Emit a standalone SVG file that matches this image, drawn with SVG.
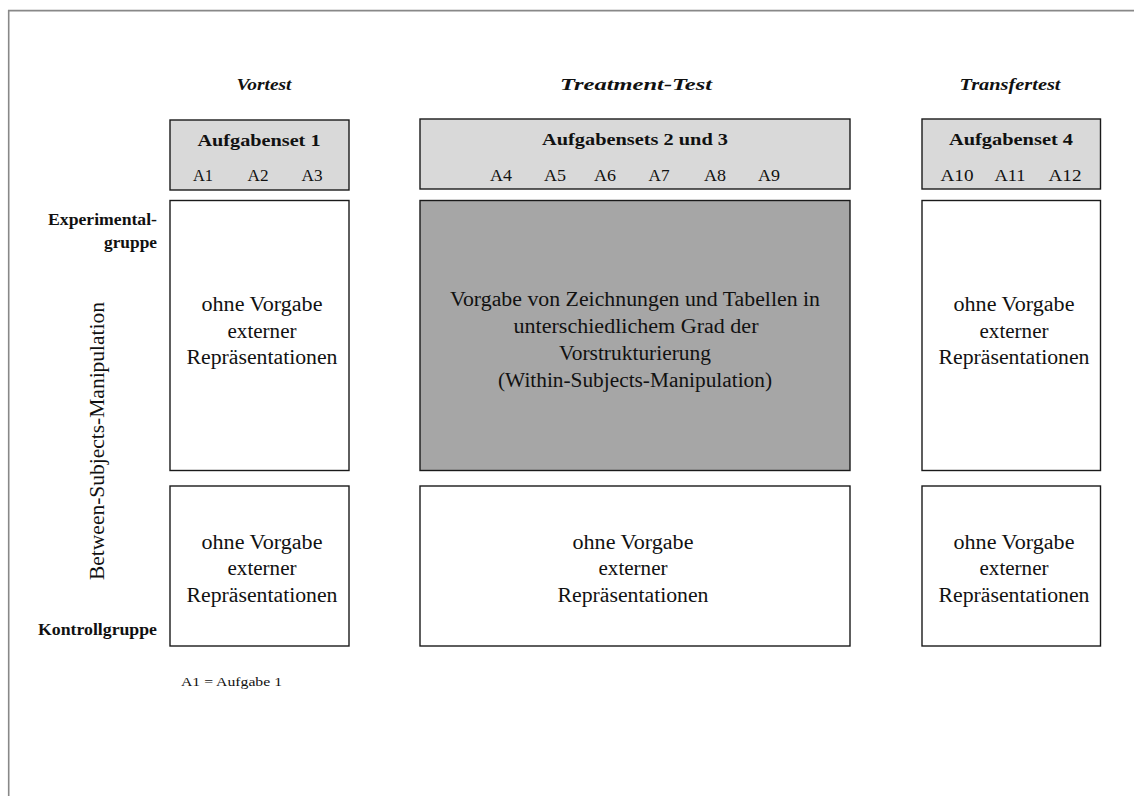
<svg xmlns="http://www.w3.org/2000/svg" width="1134" height="796" viewBox="0 0 1134 796">
  <style>
    text { font-family: "Liberation Serif", "Times New Roman", serif; fill: #111; text-anchor: middle; }
    .phase { font-size: 17px; font-weight: bold; font-style: italic; }
    .set { font-size: 17px; font-weight: bold; }
    .task { font-size: 17px; }
    .body { font-size: 20px; }
    .grp { font-size: 16px; font-weight: bold; text-anchor: end; }
    .axis { font-size: 20px; }
    .note { font-size: 12px; text-anchor: start; }
    .hdr { fill: #d9d9d9; stroke: #1a1a1a; stroke-width: 1.4; }
    .cell { fill: #ffffff; stroke: #1a1a1a; stroke-width: 1.4; }
    .cell-dark { fill: #a6a6a6; stroke: #1a1a1a; stroke-width: 1.4; }
  </style>

  <rect width="1134" height="796" fill="#ffffff"/>
  <!-- frame (top and left edges) -->
  <path d="M8.7 796 V10.6 H1134" fill="none" stroke="#888888" stroke-width="1.6"/>

  <g id="connectors"/>

  <!-- phase titles -->
  <g id="phase-titles">
    <text class="phase" x="264" y="90" textLength="55" lengthAdjust="spacingAndGlyphs">Vortest</text>
    <text class="phase" x="636" y="90" textLength="152" lengthAdjust="spacingAndGlyphs">Treatment-Test</text>
    <text class="phase" x="1010" y="90" textLength="101" lengthAdjust="spacingAndGlyphs">Transfertest</text>
  </g>

  <!-- task-set headers -->
  <g id="header-set1">
    <rect class="hdr" x="170" y="120" width="179" height="70"/>
    <text class="set" x="259" y="146" textLength="123" lengthAdjust="spacingAndGlyphs">Aufgabenset  1</text>
    <text class="task" x="203" y="181" textLength="20" lengthAdjust="spacingAndGlyphs">A1</text>
    <text class="task" x="258" y="181" textLength="21" lengthAdjust="spacingAndGlyphs">A2</text>
    <text class="task" x="312" y="181" textLength="21" lengthAdjust="spacingAndGlyphs">A3</text>
  </g>
  <g id="header-set23">
    <rect class="hdr" x="420" y="119" width="430" height="70"/>
    <text class="set" x="635" y="145" textLength="186" lengthAdjust="spacingAndGlyphs">Aufgabensets  2 und  3</text>
    <text class="task" x="501" y="181" textLength="22" lengthAdjust="spacingAndGlyphs">A4</text>
    <text class="task" x="555" y="181" textLength="22" lengthAdjust="spacingAndGlyphs">A5</text>
    <text class="task" x="605" y="181" textLength="22" lengthAdjust="spacingAndGlyphs">A6</text>
    <text class="task" x="659" y="181" textLength="21" lengthAdjust="spacingAndGlyphs">A7</text>
    <text class="task" x="715" y="181" textLength="22" lengthAdjust="spacingAndGlyphs">A8</text>
    <text class="task" x="769" y="181" textLength="22" lengthAdjust="spacingAndGlyphs">A9</text>
  </g>
  <g id="header-set4">
    <rect class="hdr" x="922" y="119" width="178.5" height="70"/>
    <text class="set" x="1011" y="145" textLength="124" lengthAdjust="spacingAndGlyphs">Aufgabenset  4</text>
    <text class="task" x="957" y="181" textLength="33" lengthAdjust="spacingAndGlyphs">A10</text>
    <text class="task" x="1010" y="181" textLength="31" lengthAdjust="spacingAndGlyphs">A11</text>
    <text class="task" x="1065" y="181" textLength="33" lengthAdjust="spacingAndGlyphs">A12</text>
  </g>

  <!-- group labels -->
  <g id="group-labels">
    <text class="grp" x="157" y="225" textLength="109" lengthAdjust="spacingAndGlyphs">Experimental-</text>
    <text class="grp" x="157" y="248" textLength="53" lengthAdjust="spacingAndGlyphs">gruppe</text>
    <text class="grp" x="157" y="635" textLength="119" lengthAdjust="spacingAndGlyphs">Kontrollgruppe</text>
    <text class="axis" transform="translate(104 441) rotate(-90)" x="0" y="0" textLength="278" lengthAdjust="spacingAndGlyphs">Between-Subjects-Manipulation</text>
  </g>

  <!-- experimental group row -->
  <g id="exp-vortest">
    <rect class="cell" x="170" y="200.5" width="179" height="270"/>
    <text class="body" x="262" y="311" textLength="121" lengthAdjust="spacingAndGlyphs">ohne Vorgabe</text>
    <text class="body" x="262" y="338" textLength="69" lengthAdjust="spacingAndGlyphs">externer</text>
    <text class="body" x="262" y="364" textLength="151" lengthAdjust="spacingAndGlyphs">Repräsentationen</text>
  </g>
  <g id="exp-treatment">
    <rect class="cell-dark" x="420" y="200.5" width="430" height="270"/>
    <text class="body" x="635" y="306" textLength="370" lengthAdjust="spacingAndGlyphs">Vorgabe von Zeichnungen  und Tabellen  in</text>
    <text class="body" x="636" y="333" textLength="245" lengthAdjust="spacingAndGlyphs">unterschiedlichem  Grad der</text>
    <text class="body" x="635" y="360" textLength="152" lengthAdjust="spacingAndGlyphs">Vorstrukturierung</text>
    <text class="body" x="635" y="387" textLength="274" lengthAdjust="spacingAndGlyphs">(Within-Subjects-Manipulation)</text>
  </g>
  <g id="exp-transfer">
    <rect class="cell" x="922" y="200.5" width="178.5" height="270"/>
    <text class="body" x="1014" y="311" textLength="121" lengthAdjust="spacingAndGlyphs">ohne Vorgabe</text>
    <text class="body" x="1014" y="338" textLength="69" lengthAdjust="spacingAndGlyphs">externer</text>
    <text class="body" x="1014" y="364" textLength="151" lengthAdjust="spacingAndGlyphs">Repräsentationen</text>
  </g>

  <!-- control group row -->
  <g id="ctrl-vortest">
    <rect class="cell" x="170" y="486" width="179" height="160"/>
    <text class="body" x="262" y="549" textLength="121" lengthAdjust="spacingAndGlyphs">ohne Vorgabe</text>
    <text class="body" x="262" y="575" textLength="69" lengthAdjust="spacingAndGlyphs">externer</text>
    <text class="body" x="262" y="602" textLength="151" lengthAdjust="spacingAndGlyphs">Repräsentationen</text>
  </g>
  <g id="ctrl-treatment">
    <rect class="cell" x="420" y="486" width="430" height="160"/>
    <text class="body" x="633" y="549" textLength="121" lengthAdjust="spacingAndGlyphs">ohne Vorgabe</text>
    <text class="body" x="633" y="575" textLength="69" lengthAdjust="spacingAndGlyphs">externer</text>
    <text class="body" x="633" y="602" textLength="151" lengthAdjust="spacingAndGlyphs">Repräsentationen</text>
  </g>
  <g id="ctrl-transfer">
    <rect class="cell" x="922" y="486" width="178.5" height="160"/>
    <text class="body" x="1014" y="549" textLength="121" lengthAdjust="spacingAndGlyphs">ohne Vorgabe</text>
    <text class="body" x="1014" y="575" textLength="69" lengthAdjust="spacingAndGlyphs">externer</text>
    <text class="body" x="1014" y="602" textLength="151" lengthAdjust="spacingAndGlyphs">Repräsentationen</text>
  </g>

  <!-- legend -->
  <g id="legend">
    <text class="note" x="181" y="686" textLength="101" lengthAdjust="spacingAndGlyphs">A1 = Aufgabe 1</text>
  </g>
</svg>
